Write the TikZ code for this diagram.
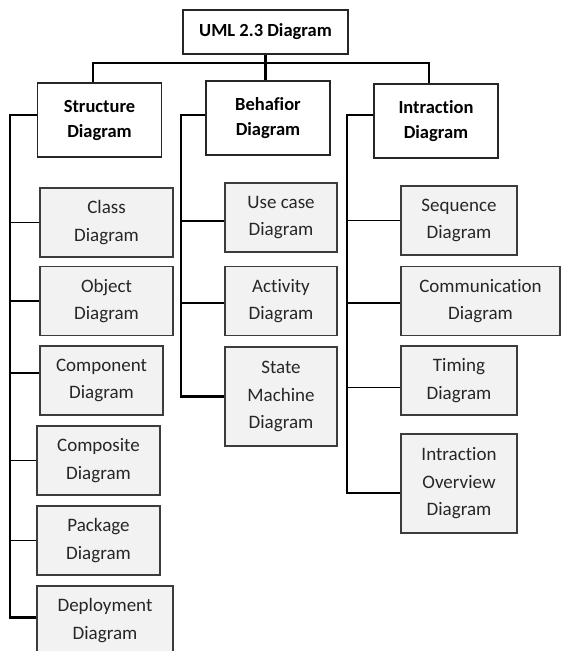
\documentclass[tikz,border=0pt]{standalone}
\usepackage{fontspec}
\setmainfont{Carlito}[Ligatures=NoCommon]
\usepackage{xcolor}
\usepackage{tikz}
\usetikzlibrary{positioning, calc}
\definecolor{boxgray}{HTML}{F2F2F2}
\definecolor{linegray}{HTML}{3C3C3C}
\definecolor{txtgray}{HTML}{262626}

\begin{document}
\begin{tikzpicture}[x=1pt, y=-1pt,
    head/.style={draw=black!85, line width=1.4pt, fill=white, align=center,
                 inner sep=0pt, font=\fontsize{18.5}{25}\selectfont\bfseries},
    kind/.style={head, minimum width=124pt, minimum height=74pt},
    leaf/.style={draw=linegray, line width=1.3pt, fill=boxgray, align=center,
                 inner sep=0pt, text=txtgray, minimum height=69pt,
                 font=\fontsize{19}{27.5}\selectfont},
    trunk/.style={line width=2.2pt, black},
    branch/.style={line width=1.1pt, black}]

    \path[use as bounding box, clip] (0,0) rectangle (561,651);

    \node[head, minimum width=165pt, minimum height=44pt] (uml) at (265.5,32)
      {UML 2.3 Diagram};
    \node[kind] (struct) at (99.5,120) {Structure\\Diagram};
    \node[kind] (behav)  at (268,118)  {Behafior\\Diagram};
    \node[kind] (intr)   at (436,121)  {Intraction\\Diagram};

    % structure diagrams
    \node[leaf, minimum width=133pt] (class)   at (106.5,222.5) {Class\\Diagram};
    \node[leaf, minimum width=133pt] (object)  at (106.5,301)   {Object\\Diagram};
    \node[leaf, minimum width=123pt] (compon)  at (101.5,380.5) {Component\\Diagram};
    \node[leaf, minimum width=123pt] (compos)  at (98.5,460.5)  {Composite\\Diagram};
    \node[leaf, minimum width=123pt] (pack)    at (98.5,540.5)  {Package\\Diagram};
    \node[leaf, minimum width=136pt] (deploy)  at (105,620.5)   {Deployment\\Diagram};

    % behavior diagrams
    \node[leaf, minimum width=112pt] (usecase) at (281,217.5) {Use case\\Diagram};
    \node[leaf, minimum width=112pt] (activ)   at (281,301)   {Activity\\Diagram};
    \node[leaf, minimum width=112pt, minimum height=99pt] (state) at (281,396.5)
      {State\\Machine\\Diagram};

    % interaction diagrams
    \node[leaf, minimum width=116pt] (seq)     at (459,220.5) {Sequence\\Diagram};
    \node[leaf, minimum width=159pt] (comm)    at (480.5,301) {Communication\\Diagram};
    \node[leaf, minimum width=116pt] (timing)  at (459,380.5) {Timing\\Diagram};
    \node[leaf, minimum width=116pt, minimum height=99pt] (overv) at (459,483.5)
      {Intraction\\Overview\\Diagram};

    % edges
    \coordinate (bus) at (265.5,63);
    \draw[trunk] (uml.south) -- (uml.south |- behav.north);
    \draw[trunk] ([xshift=-6.5pt]struct.north) |- (bus) -| ([xshift=-7pt]intr.north);

    \coordinate (sspine) at ([xshift=-27pt, yshift=5pt]struct.west);
    \coordinate (bspine) at ([xshift=-24pt, yshift=3pt]behav.west);
    \coordinate (ispine) at ([xshift=-26pt, yshift=6pt]intr.west);

    \draw[trunk] ([yshift=5pt]struct.west) -- (sspine) |- ([yshift=3pt]deploy.west);
    \draw[trunk] ([yshift=3pt]behav.west) -- (bspine) |- (state.west);
    \draw[trunk] ([yshift=6pt]intr.west) -- (ispine) |- ([yshift=-9.5pt]overv.west);

    \foreach \n/\dy in {class/0, object/0, compon/7.5, compos/0, pack/0} {
      \coordinate (e) at ([yshift=\dy pt]\n.west);
      \draw[branch] (sspine |- e) -- (e);
    }
    \foreach \n/\dy in {usecase/-3.5, activ/-2} {
      \coordinate (e) at ([yshift=\dy pt]\n.west);
      \draw[branch] (bspine |- e) -- (e);
    }
    \foreach \n/\dy in {seq/0, comm/-2, timing/-7} {
      \coordinate (e) at ([yshift=\dy pt]\n.west);
      \draw[branch] (ispine |- e) -- (e);
    }
\end{tikzpicture}
\end{document}
